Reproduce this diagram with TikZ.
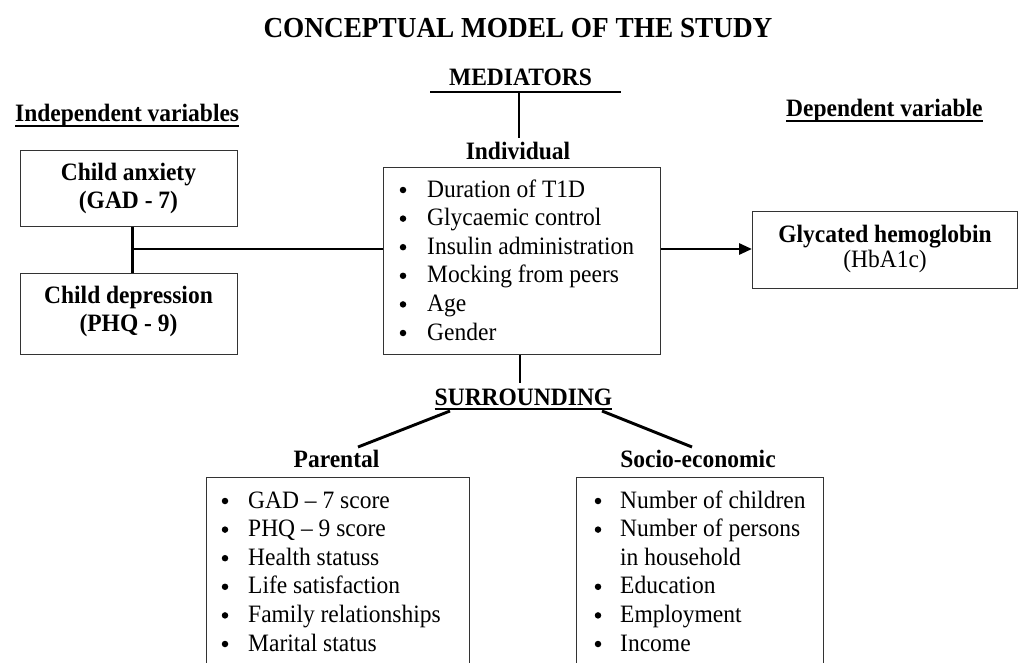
\documentclass[tikz,border=0pt]{standalone}
\usepackage{fontspec}
\setmainfont[FakeStretch=0.94]{Liberation Serif}
\usetikzlibrary{arrows.meta}
\begin{document}
\begin{tikzpicture}[x=1pt,y=-1pt,
  every node/.style={inner sep=0pt, font=\fontsize{25}{28.6}\selectfont},
  box/.style={draw=black!80, line width=1.4pt, rectangle, anchor=north west},
  conn/.style={line width=2.9pt, black},
  lbl/.style={font=\fontsize{25}{28.6}\selectfont\bfseries, anchor=base},
  txt/.style={anchor=base west},
  bul/.style={circle, fill=black, minimum size=6.5pt, inner sep=0pt},
  ul/.style={line width=1.6pt}]
\useasboundingbox (0,0) rectangle (1024,663);
\clip (0,0) rectangle (1024,663);
\fill[white] (0,0) rectangle (1024,663);

% title
\node[font=\fontsize{29}{33}\selectfont\bfseries, anchor=base] (title) at (518,38) {CONCEPTUAL MODEL OF THE STUDY};

% headings
\node[lbl, anchor=base west] (iv) at (15,122) {Independent variables};
\draw[ul] ([yshift=-4pt]iv.base west) -- ([yshift=-4pt]iv.base east);
\node[lbl, anchor=base west] (dv) at (786,117) {Dependent variable};
\draw[ul] ([yshift=-4pt]dv.base west) -- ([yshift=-4pt]dv.base east);

% independent boxes
\node[box, minimum width=217pt, minimum height=76pt] (ca) at (20,150) {};
\node[lbl] (ca1) at (128.5,180) {Child anxiety};
\node[lbl] (ca2) at (128.5,208) {(GAD - 7)};
\node[box, minimum width=217pt, minimum height=81pt] (cd) at (20,273) {};
\node[lbl] (cd1) at (128.5,303) {Child depression};
\node[lbl] (cd2) at (128.5,331) {(PHQ - 9)};

% mediators
\node[lbl] (med) at (520.5,86) {MEDIATORS};
\coordinate (m1) at (430,92);
\coordinate (m2) at (621,92);
\coordinate (mv) at (519,92);
\coordinate (mv2) at (519,138);
\draw[conn, line width=2.4pt] (m1) -- (m2);
\draw[conn] (mv) -- (mv2);
\node[lbl] (indl) at (518,160) {Individual};

\node[box, minimum width=277pt, minimum height=187pt] (ind) at (383,167) {};
\foreach \t [count=\i] in {Duration of T1D, Glycaemic control, Insulin administration, Mocking from peers, Age, Gender} {
  \node[bul] (indb\i) at (403,{190+(\i-1)*28.6}) {};
  \node[txt] (indt\i) at (427,{197+(\i-1)*28.6}) {\t};
}

% dependent box
\node[box, minimum width=265pt, minimum height=77pt] (gh) at (752,211) {};
\node[lbl] (gh1) at (885,242) {Glycated hemoglobin};
\node[anchor=base] (gh2) at (885,267) {(HbA1c)};

% connectors
\coordinate (j) at (132,249);
\draw[conn] ([xshift=3.5pt]ca.south) -- ([xshift=3.5pt]cd.north);
\draw[conn] (j) -- (j -| ind.west);
\draw[conn, -{Triangle[length=13pt,width=11pt]}] (j -| ind.east) -- (j -| gh.west);

% surrounding
\coordinate (sv) at (520,383);
\draw[conn] (ind.south -| sv) -- (sv);
\node[lbl] (sur) at (523.5,405) {SURROUNDING};
\draw[ul, line width=2pt] ([yshift=-4pt]sur.base west) -- ([yshift=-4pt]sur.base east);
\coordinate (sl1) at (450,411);
\coordinate (sl2) at (358,447);
\coordinate (sr1) at (602,411);
\coordinate (sr2) at (692,447);
\draw[conn] (sl1) -- (sl2);
\draw[conn] (sr1) -- (sr2);

\node[lbl] (parl) at (336.5,467) {Parental};
\node[lbl] (socl) at (698,467) {Socio-economic};

\node[box, minimum width=263pt, minimum height=230pt] (par) at (206,477) {};
\foreach \t [count=\i] in {GAD – 7 score, PHQ – 9 score, Health statuss, Life satisfaction, Family relationships, Marital status} {
  \node[bul] (parb\i) at (225,{501+(\i-1)*28.6}) {};
  \node[txt] (part\i) at (248,{508+(\i-1)*28.6}) {\t};
}

\node[box, minimum width=247pt, minimum height=230pt] (soc) at (576,477) {};
\node[bul] (socb1) at (598,501) {};
\node[txt] (soct1) at (620,508) {Number of children};
\node[bul] (socb2) at (598,529.6) {};
\node[txt] (soct2) at (620,536.6) {Number of persons};
\node[txt] (soct3) at (620,565.2) {in household};
\node[bul] (socb4) at (598,586.8) {};
\node[txt] (soct4) at (620,593.8) {Education};
\node[bul] (socb5) at (598,615.4) {};
\node[txt] (soct5) at (620,622.4) {Employment};
\node[bul] (socb6) at (598,644) {};
\node[txt] (soct6) at (620,651) {Income};
\end{tikzpicture}
\end{document}
